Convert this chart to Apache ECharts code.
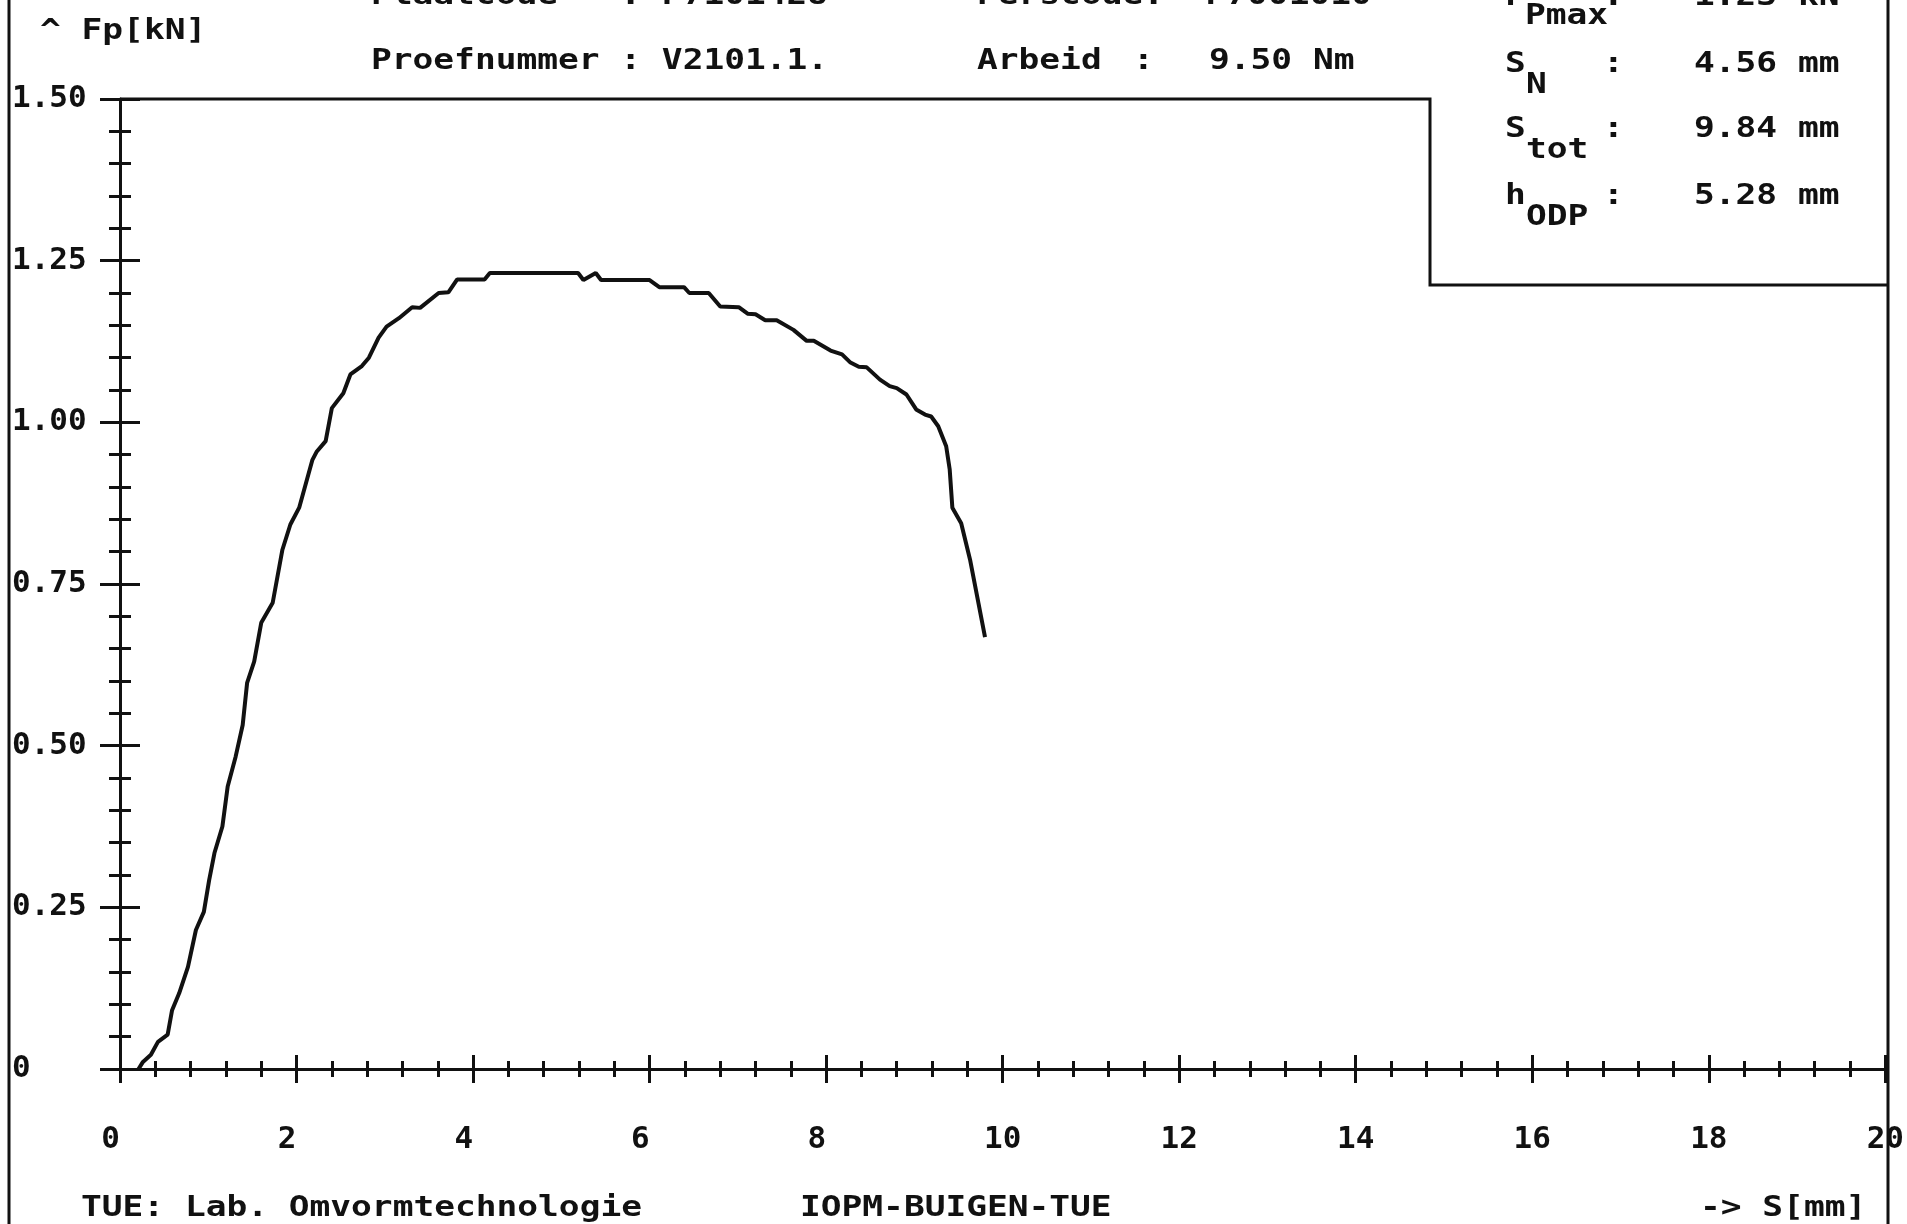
<!DOCTYPE html>
<html><head><meta charset="utf-8">
<script src="https://cdn.jsdelivr.net/npm/echarts@6/dist/echarts.min.js"></script>
<style>html,body{margin:0;padding:0;background:#fff}#c{width:1907px;height:1224px}</style>
</head><body><div id="c"></div>
<script>
// Displacement S [mm]
const sMm = [0.21,0.26,0.35,0.43,0.54,0.59,0.67,0.77,0.86,0.95,1.01,1.07,1.16,1.22,1.31,1.39,1.44,1.52,1.60,1.73,
  1.84,1.93,2.03,2.18,2.23,2.33,2.40,2.53,2.61,2.74,2.82,2.93,3.02,3.16,3.31,3.40,3.61,3.72,3.82,4.13,
  4.19,5.19,5.25,5.39,5.45,6.00,6.11,6.39,6.45,6.67,6.80,7.01,7.11,7.20,7.31,7.44,7.63,7.78,7.86,8.05,
  8.18,8.27,8.37,8.46,8.61,8.72,8.80,8.91,9.02,9.12,9.19,9.27,9.36,9.40,9.43,9.53,9.63,9.80];
// Force Fp [kN]
const fpKn = [0,0.011,0.022,0.042,0.053,0.091,0.117,0.158,0.215,0.243,0.292,0.334,0.375,0.437,0.483,0.532,0.597,0.630,0.690,0.721,
  0.803,0.842,0.868,0.942,0.955,0.971,1.022,1.045,1.074,1.087,1.100,1.131,1.148,1.161,1.178,1.177,1.200,1.201,1.221,1.221,
  1.231,1.231,1.220,1.231,1.220,1.220,1.209,1.209,1.200,1.200,1.179,1.178,1.168,1.167,1.158,1.158,1.143,1.126,1.126,1.111,
  1.105,1.093,1.086,1.085,1.066,1.056,1.053,1.043,1.020,1.012,1.009,0.994,0.963,0.927,0.868,0.844,0.788,0.668];
const xTickLabels = ['0','2','4','6','8','10','12','14','16','18','20'];
const yTickLabels = ['0','0.25','0.50','0.75','1.00','1.25','1.50'];

const INK = '#111';
const MONO = '"DejaVu Sans Mono", monospace';
const chart = echarts.init(document.getElementById('c'), null, {renderer:'canvas'});

function txt(x, y, s, extra) {
  return Object.assign({ type:'text', x:x, y:y, scaleX:1.19, silent:true, z:10,
    style:{ text:s, fontFamily:MONO, fontSize:29, fontWeight:'bold', fill:INK, align:'left', verticalAlign:'middle' } }, extra || {});
}
function vline(x, y1, y2) {
  return { type:'line', silent:true, z:10, shape:{x1:x,y1:y1,x2:x,y2:y2}, style:{stroke:INK, lineWidth:3} };
}

const xLab = function (v) {
  const s = xTickLabels[Math.round(v / 2)];
  if (s === undefined) return '';
  return s.length === 1 ? s + ' ' : s;
};
const yLab = function (v) {
  const s = yTickLabels[Math.round(v / 0.25)];
  return s === undefined ? '' : s;
};

const tickStyle = {color:INK, width:3};
function xAx(inside, main) {
  return {
    type:'value', min:0, max:20, interval:2, position:'bottom',
    axisLine:{show:main, lineStyle:{color:INK, width:3}},
    axisTick:{show:true, inside:inside, length:14, lineStyle:tickStyle},
    minorTick:{show:true, splitNumber:5, length:8, lineStyle:tickStyle},
    splitLine:{show:false}, minorSplitLine:{show:false},
    axisLabel:{show:main, formatter:xLab, margin:55, fontFamily:MONO, fontSize:31, fontWeight:'bold', color:INK}
  };
}
function yAx(inside, main) {
  return {
    type:'value', min:0, max:1.5, interval:0.25, position:'left',
    axisLine:{show:main, lineStyle:{color:INK, width:3}},
    axisTick:{show:true, inside:inside, length:20, lineStyle:tickStyle},
    minorTick:{show:true, splitNumber:5, length:11, lineStyle:tickStyle},
    splitLine:{show:false}, minorSplitLine:{show:false},
    axisLabel:{show:main, formatter:yLab, margin:108, align:'left', fontFamily:MONO, fontSize:31, fontWeight:'bold', color:INK}
  };
}

chart.setOption({
  animation:false,
  backgroundColor:'#fff',
  grid:{left:120, top:99, right:18, bottom:155, containLabel:false},
  xAxis:[xAx(false, true), xAx(true, false)],
  yAxis:[yAx(false, true), yAx(true, false)],
  series:[{
    type:'line', xAxisIndex:0, yAxisIndex:0, showSymbol:false, symbol:'none',
    lineStyle:{color:INK, width:4}, z:5,
    data: sMm.map(function (s, i) { return [s, fpKn[i]]; })
  }],
  graphic:[
    vline(9, 0, 1224),
    vline(1888, 0, 1224),
    { type:'polyline', silent:true, z:10,
      shape:{points:[[120,99],[1430,99],[1430,285],[1888,285]]},
      style:{stroke:INK, lineWidth:3, fill:null} },
    txt(40, 31, '^ Fp[kN]'),
    txt(371, -4, 'Plaatcode   : P7101428'),
    txt(977, -4, 'Perscode:  P7001010'),
    txt(371, 61, 'Proefnummer : V2101.1.'),
    txt(977, 61, 'Arbeid'), txt(1133, 61, ':'), txt(1209, 61, '9.50 Nm'),
    // info box
    txt(1505, -3, 'F'), txt(1525, 16, 'Pmax'), txt(1603, -3, ':'), txt(1694, -3, '1.23 kN'),
    txt(1505, 64, 'S'), txt(1526, 85, 'N'), txt(1603, 64, ':'), txt(1694, 64, '4.56 mm'),
    txt(1505, 129, 'S'), txt(1526, 150, 'tot'), txt(1603, 129, ':'), txt(1694, 129, '9.84 mm'),
    txt(1505, 196, 'h'), txt(1526, 217, 'ODP'), txt(1603, 196, ':'), txt(1694, 196, '5.28 mm'),
    // footer
    txt(81, 1208, 'TUE: Lab. Omvormtechnologie'),
    txt(800, 1208, 'IOPM-BUIGEN-TUE'),
    txt(1700, 1208, '-> S[mm]')
  ]
});
</script>
</body></html>
